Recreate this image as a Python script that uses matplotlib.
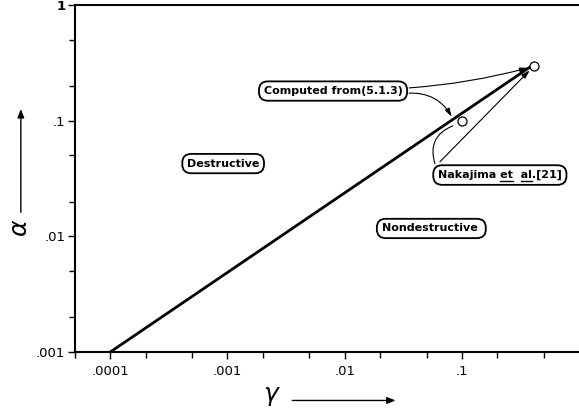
"""Log-log plot of alpha vs gamma: destructive / nondestructive regions."""

import matplotlib

matplotlib.use("Agg")
import matplotlib.pyplot as plt
from matplotlib.lines import Line2D
from matplotlib.patches import FancyArrowPatch
from matplotlib.ticker import FixedLocator, LogLocator, NullFormatter

# boundary line between the two regions
boundary_gamma = [1e-4, 0.4]
boundary_alpha = [1e-3, 0.3]

# the two marked points (computed / Nakajima et al.)
point_gamma = [0.1, 0.41]
point_alpha = [0.1, 0.295]

x_ticks = [1e-4, 1e-3, 1e-2, 1e-1]
x_tick_labels = [".0001", ".001", ".01", ".1"]
y_ticks = [1e-3, 1e-2, 1e-1, 1]
y_tick_labels = [".001", ".01", ".1", "1"]

fig = plt.figure(figsize=(5.79, 4.12), dpi=100)
ax = fig.add_axes([0.1295, 0.1456, 0.8705, 0.8423])

ax.plot(boundary_gamma, boundary_alpha, color="black", lw=2.0, solid_capstyle="butt", zorder=2)
ax.plot(point_gamma, point_alpha, "o", ms=6.5, mfc="white", mec="black", mew=0.9, ls="none", zorder=3)

ax.set_xscale("log")
ax.set_yscale("log")
ax.set_xlim(5e-5, 1)
ax.set_ylim(1e-3, 1)

ax.xaxis.set_major_locator(FixedLocator(x_ticks))
ax.set_xticklabels(x_tick_labels)
ax.yaxis.set_major_locator(FixedLocator(y_ticks))
ax.set_yticklabels(y_tick_labels)
ax.xaxis.set_minor_locator(LogLocator(base=10, subs=(2, 5)))
ax.yaxis.set_minor_locator(LogLocator(base=10, subs=(2, 5)))
ax.xaxis.set_minor_formatter(NullFormatter())
ax.yaxis.set_minor_formatter(NullFormatter())
ax.tick_params(which="both", direction="out", width=1.0, labelsize=9.5, pad=2)
ax.tick_params(which="major", length=5)
ax.tick_params(which="minor", length=4)
ax.tick_params(axis="x", pad=4)
ax.get_yticklabels()[-1].set_fontweight("bold")

for side in ("left", "bottom", "top"):
    ax.spines[side].set_linewidth(1.5)
ax.spines["right"].set_visible(False)

box = dict(boxstyle="round,pad=0.42,rounding_size=0.8", fc="white", ec="black", lw=1.3)
label_kw = dict(xycoords="axes fraction", ha="center", va="center",
                fontsize=8, fontweight="bold", bbox=box)

ax.annotate("Destructive", xy=(0.294, 0.543), **label_kw)
ax.annotate("Nondestructive ", xy=(0.707, 0.356), **label_kw)
ax.annotate("Computed from(5.1.3)", xy=(0.512, 0.752), **label_kw)
naka_text = "Nakajima et  al.[21]"
naka = ax.annotate(naka_text, xy=(0.843, 0.510), **label_kw)

arrow = dict(arrowstyle="-|>,head_length=0.5,head_width=0.15", color="black", lw=0.8,
             shrinkA=0, shrinkB=4)
# Computed from (5.1.3) -> both points
ax.annotate("", xy=(point_gamma[1], point_alpha[1]), xycoords="data",
            xytext=(0.663, 0.761), textcoords="axes fraction",
            arrowprops=dict(arrow, connectionstyle="arc3,rad=0.05"))
ax.annotate("", xy=(0.082, 0.108), xycoords="data",
            xytext=(0.663, 0.746), textcoords="axes fraction",
            arrowprops=dict(arrow, shrinkB=0, connectionstyle="arc3,rad=-0.3"))
# Nakajima et al. -> both points
ax.annotate("", xy=(point_gamma[1], point_alpha[1]), xycoords="data",
            xytext=(0.724, 0.548), textcoords="axes fraction",
            arrowprops=dict(arrow, connectionstyle="arc3,rad=0"))
ax.annotate("", xy=(0.088, 0.092), xycoords="data",
            xytext=(0.716, 0.535), textcoords="axes fraction",
            arrowprops=dict(arrowstyle="-", color="black", lw=0.8,
                            connectionstyle="arc3,rad=-0.5"))

# axis labels with arrows
fig.text(0.035, 0.447, r"$\alpha$", rotation=90, fontsize=18, ha="center", va="center")
fig.add_artist(FancyArrowPatch(
    (0.036, 0.478), (0.036, 0.742), transform=fig.transFigure,
    arrowstyle="-|>,head_length=0.5,head_width=0.2", mutation_scale=10, color="black", lw=1.0))
fig.text(0.469, 0.038, r"$\gamma$", fontsize=18, ha="center", va="center")
fig.add_artist(FancyArrowPatch(
    (0.50, 0.028), (0.688, 0.028), transform=fig.transFigure,
    arrowstyle="-|>,head_length=0.5,head_width=0.2", mutation_scale=10, color="black", lw=1.0))

# underline "et" and "al" inside the Nakajima label (mathtext has no \underline)
fig.canvas.draw()
renderer = fig.canvas.get_renderer()
ext = naka.get_window_extent(renderer)
prop = naka.get_fontproperties()


def text_width(s):
    w, _, _ = renderer.get_text_width_height_descent(s, prop, ismath=False)
    return w


inv = fig.transFigure.inverted()
y_line = ext.y0 - 0.5
for word in ("et", "al"):
    start = naka_text.index(word)
    x0 = ext.x0 + text_width(naka_text[:start])
    x1 = ext.x0 + text_width(naka_text[:start + len(word)])
    (fx0, fy), (fx1, _) = inv.transform([(x0, y_line), (x1, y_line)])
    fig.add_artist(Line2D([fx0, fx1], [fy, fy], color="black", lw=1.0))

fig.savefig("out.png", dpi=100)
